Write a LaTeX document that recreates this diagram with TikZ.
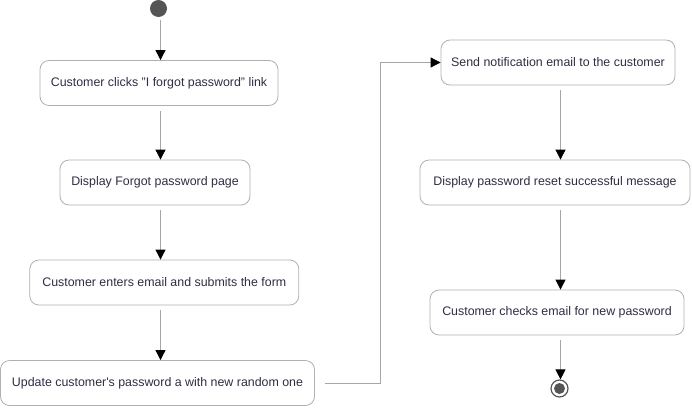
\documentclass[tikz,border=0pt]{standalone}
\usepackage{fontspec}
\setmainfont{Liberation Sans}
\usetikzlibrary{arrows.meta}
\definecolor{linegray}{HTML}{A6A6A6}
\definecolor{boxgray}{HTML}{B0B0B0}
\definecolor{dotgray}{HTML}{555555}
\definecolor{labeltext}{HTML}{2E2E44}

\begin{document}
\begin{tikzpicture}[x=1pt,y=-1pt,
  action/.style={draw=boxgray, line width=0.8pt, fill=white, rounded corners=9pt, minimum height=45pt, inner sep=0pt, text=labeltext, font=\fontsize{12.4}{14}\selectfont},
  flow/.style={draw=linegray, line width=0.8pt, -{Triangle[width=10pt,length=10pt,color=black]}, shorten <=5pt}]
\useasboundingbox (0,0) rectangle (692,407);
\coordinate (leftcol) at (160.5,0);
\coordinate (rightcol) at (560.5,0);
\node[circle, fill=dotgray, minimum size=17pt, inner sep=0pt] (start) at (158.5,8.5) {};
\node[action, minimum width=238pt] (clicks) at (159,83) {Customer clicks "I forgot password" link};
\node[action, minimum width=190pt] (display) at (155,182.5) {Display Forgot password page};
\node[action, minimum width=269pt] (enters) at (164.3,282.5) {Customer enters email and submits the form};
\node[action, minimum width=314pt] (update) at (157.5,383) {Update customer\textquotesingle s password a with new random one};
\node[action, minimum width=234pt] (notify) at (558,62.5) {Send notification email to the customer};
\node[action, minimum width=270pt] (success) at (555,182.5) {Display password reset successful message};
\node[action, minimum width=254pt] (checks) at (557,312.5) {Customer checks email for new password};
\node[circle, draw=dotgray, line width=1.2pt, fill=white, minimum size=17pt, inner sep=0pt] (finish) at (559.5,388.5) {};
\fill[dotgray] (finish) circle (5.5pt);
\draw[flow, shorten <=3pt] (start.south -| leftcol) -- (clicks.north -| leftcol);
\draw[flow] (clicks.south -| leftcol) -- (display.north -| leftcol);
\draw[flow] (display.south -| leftcol) -- (enters.north -| leftcol);
\draw[flow] (enters.south -| leftcol) -- (update.north -| leftcol);
\draw[flow] ([xshift=5pt]update.east) -- ++(60.5,0) |- (notify.west);
\draw[flow] (notify.south -| rightcol) -- (success.north -| rightcol);
\draw[flow] (success.south -| rightcol) -- (checks.north -| rightcol);
\draw[flow] (checks.south -| rightcol) -- (finish.north -| rightcol);
\end{tikzpicture}
\end{document}
